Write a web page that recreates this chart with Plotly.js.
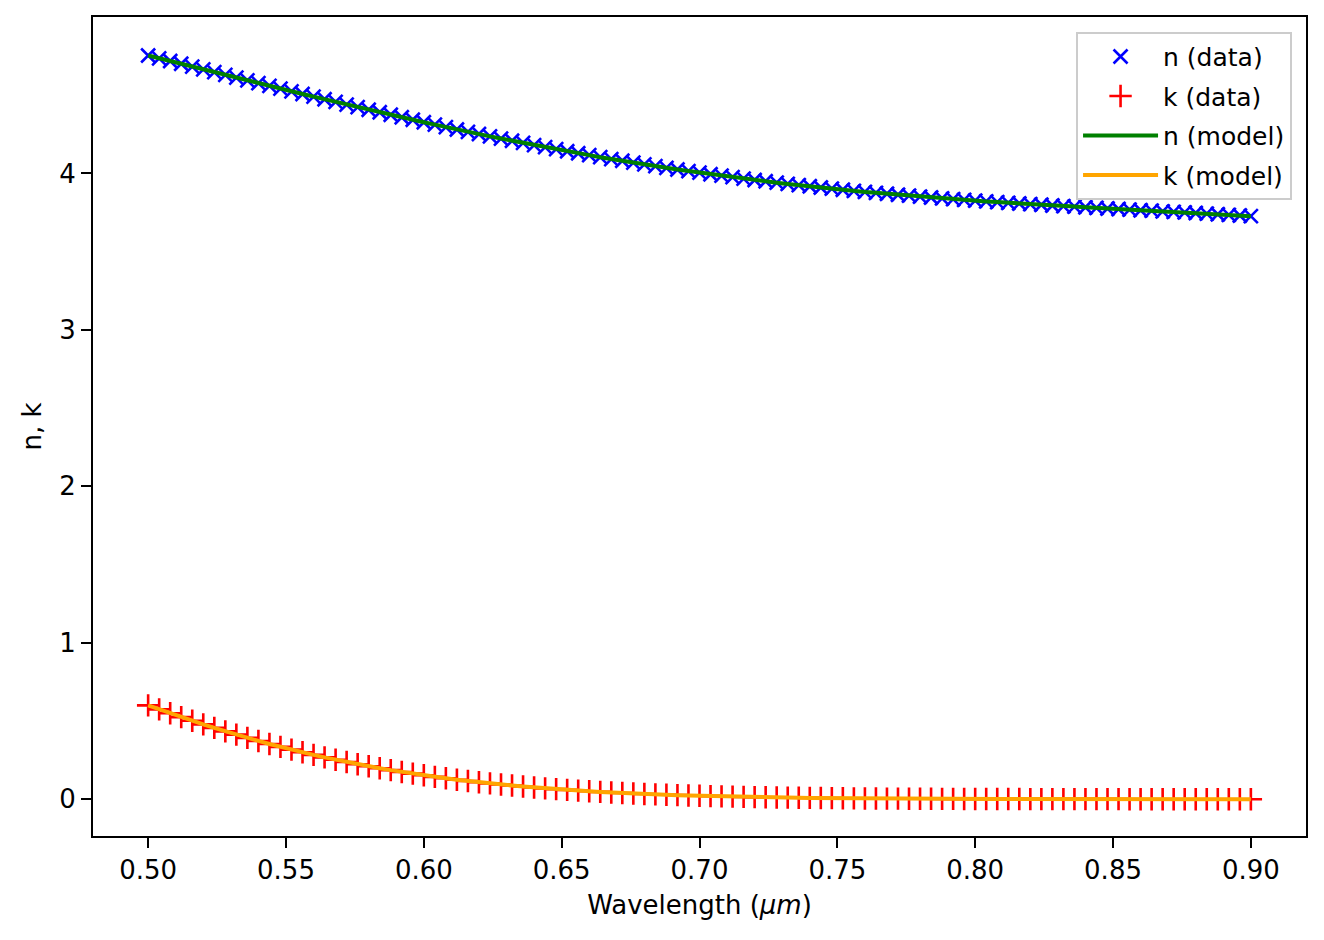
<!DOCTYPE html>
<html>
<head>
<meta charset="utf-8">
<script src="https://cdn.plot.ly/plotly-3.0.1.min.js"></script>
<style>
  html, body { margin: 0; padding: 0; background: #ffffff; }
  #myChart { width: 1324px; height: 940px; }
</style>
</head>
<body>
<div id="myChart"></div>
<script>
// wavelength in um
const wavelength = [
  0.500, 0.504, 0.508, 0.512, 0.516, 0.520, 0.524, 0.528, 0.532, 0.536,
  0.540, 0.544, 0.548, 0.552, 0.556, 0.560, 0.564, 0.568, 0.572, 0.576,
  0.580, 0.584, 0.588, 0.592, 0.596, 0.600, 0.604, 0.608, 0.612, 0.616,
  0.620, 0.624, 0.628, 0.632, 0.636, 0.640, 0.644, 0.648, 0.652, 0.656,
  0.660, 0.664, 0.668, 0.672, 0.676, 0.680, 0.684, 0.688, 0.692, 0.696,
  0.700, 0.704, 0.708, 0.712, 0.716, 0.720, 0.724, 0.728, 0.732, 0.736,
  0.740, 0.744, 0.748, 0.752, 0.756, 0.760, 0.764, 0.768, 0.772, 0.776,
  0.780, 0.784, 0.788, 0.792, 0.796, 0.800, 0.804, 0.808, 0.812, 0.816,
  0.820, 0.824, 0.828, 0.832, 0.836, 0.840, 0.844, 0.848, 0.852, 0.856,
  0.860, 0.864, 0.868, 0.872, 0.876, 0.880, 0.884, 0.888, 0.892, 0.896,
  0.900
];

// refractive index n
const nValues = [
  4.754, 4.736, 4.719, 4.701, 4.683, 4.665, 4.648, 4.630, 4.612, 4.595,
  4.577, 4.560, 4.542, 4.525, 4.508, 4.491, 4.474, 4.457, 4.440, 4.424,
  4.407, 4.391, 4.375, 4.359, 4.343, 4.327, 4.312, 4.296, 4.281, 4.266,
  4.252, 4.237, 4.223, 4.209, 4.195, 4.181, 4.168, 4.155, 4.142, 4.129,
  4.117, 4.104, 4.092, 4.081, 4.069, 4.058, 4.047, 4.036, 4.025, 4.015,
  4.005, 3.995, 3.986, 3.976, 3.967, 3.958, 3.950, 3.941, 3.933, 3.925,
  3.918, 3.910, 3.903, 3.896, 3.889, 3.882, 3.876, 3.870, 3.864, 3.858,
  3.852, 3.846, 3.841, 3.836, 3.831, 3.826, 3.821, 3.817, 3.812, 3.808,
  3.804, 3.800, 3.795, 3.791, 3.788, 3.784, 3.780, 3.776, 3.773, 3.769,
  3.765, 3.762, 3.758, 3.754, 3.751, 3.747, 3.743, 3.739, 3.735, 3.731,
  3.727
];

// extinction coefficient k
const kValues = [
  0.6000, 0.5744, 0.5495, 0.5251, 0.5014, 0.4783, 0.4559, 0.4340, 0.4129, 0.3924,
  0.3726, 0.3534, 0.3349, 0.3171, 0.3000, 0.2835, 0.2677, 0.2525, 0.2380, 0.2240,
  0.2108, 0.1981, 0.1860, 0.1744, 0.1635, 0.1530, 0.1432, 0.1338, 0.1249, 0.1165,
  0.1086, 0.1011, 0.0940, 0.0874, 0.0811, 0.0752, 0.0697, 0.0646, 0.0597, 0.0552,
  0.0509, 0.0470, 0.0433, 0.0399, 0.0367, 0.0337, 0.0309, 0.0284, 0.0260, 0.0238,
  0.0218, 0.0199, 0.0182, 0.0166, 0.0151, 0.0137, 0.0125, 0.0114, 0.0103, 0.0094,
  0.0085, 0.0077, 0.0069, 0.0063, 0.0057, 0.0051, 0.0046, 0.0041, 0.0037, 0.0033,
  0.0030, 0.0027, 0.0024, 0.0022, 0.0019, 0.0017, 0.0015, 0.0014, 0.0012, 0.0011,
  0.0010, 0.0009, 0.0008, 0.0007, 0.0006, 0.0005, 0.0005, 0.0004, 0.0004, 0.0003,
  0.0003, 0.0003, 0.0002, 0.0002, 0.0002, 0.0002, 0.0001, 0.0001, 0.0001, 0.0001,
  0.0001
];

const yTicks = [0, 1, 2, 3, 4];

const font_family = "DejaVu Sans, sans-serif";

const data = [
  {
    x: wavelength, y: nValues, mode: "markers", name: "n (data)", legendgroup: "a",
    marker: {symbol: "x-thin", size: 14, color: "blue", line: {color: "blue", width: 2.6}}
  },
  {
    x: wavelength, y: kValues, mode: "markers", name: "k (data)", legendgroup: "b",
    marker: {symbol: "cross-thin", size: 16, color: "red", line: {color: "red", width: 2.6}}
  },
  {
    x: wavelength, y: nValues, mode: "lines", name: "n (model)", legendgroup: "c",
    line: {color: "green", width: 4}
  },
  {
    x: wavelength, y: kValues, mode: "lines", name: "k (model)", legendgroup: "d",
    line: {color: "orange", width: 4}
  }
];

// Define Layout
const layout = {
  width: 1324,
  height: 940,
  paper_bgcolor: "white",
  plot_bgcolor: "white",
  font: {family: font_family, size: 26, color: "black"},
  margin: {l: 93, r: 18, t: 17, b: 104},
  showlegend: true,
  legend: {
    x: 0.9885, y: 0.982, xanchor: "right", yanchor: "top",
    bgcolor: "rgba(255,255,255,0.8)", bordercolor: "#cccccc", borderwidth: 2,
    itemwidth: 75, tracegroupgap: 4,
    font: {family: font_family, size: 25, color: "black"}
  },
  xaxis: {
    range: [0.48, 0.92],
    tick0: 0.5, dtick: 0.05, tickformat: ".2f",
    ticks: "outside", ticklen: 10, tickwidth: 2, tickcolor: "black",
    showline: true, linecolor: "black", linewidth: 2, mirror: true,
    showgrid: false, zeroline: false,
    tickfont: {size: 26},
    title: {text: "Wavelength (<i>μm</i>)", font: {size: 26}, standoff: 12}
  },
  yaxis: {
    range: [-0.235, 5.0],
    tickmode: "array", tickvals: yTicks,
    ticks: "outside", ticklen: 10, tickwidth: 2, tickcolor: "black",
    showline: true, linecolor: "black", linewidth: 2, mirror: true,
    showgrid: false, zeroline: false,
    tickfont: {size: 26},
    title: {text: "n, k", font: {size: 26}, standoff: 10}
  }
};

const config = {responsive: false, displayModeBar: false};

// Display using Plotly
Plotly.newPlot("myChart", data, layout, config);
</script>
</body>
</html>
